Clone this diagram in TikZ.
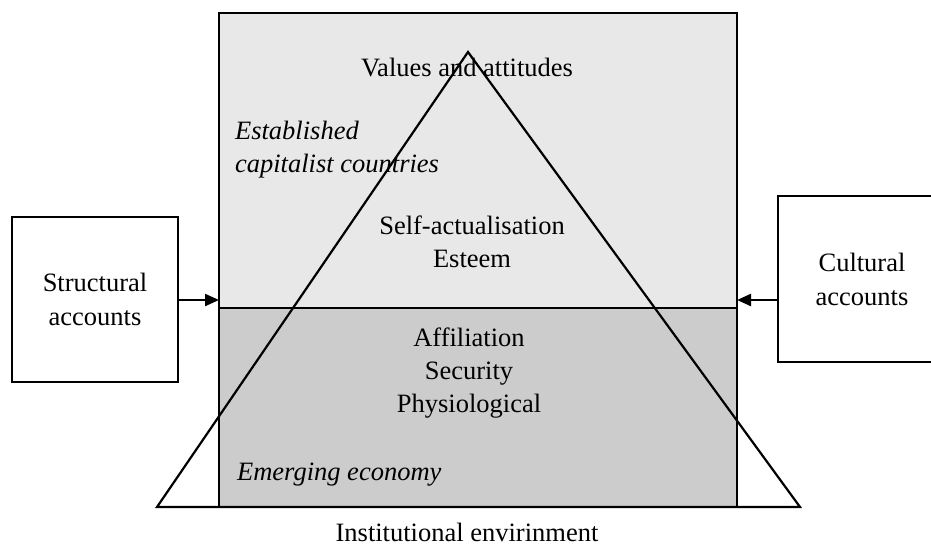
\documentclass[tikz,border=0pt]{standalone}
\usepackage{fontspec}
\setmainfont{Liberation Serif}
\usetikzlibrary{arrows.meta}
\definecolor{upperfill}{HTML}{E8E8E8}
\definecolor{lowerfill}{HTML}{CCCCCC}
\begin{document}
\begin{tikzpicture}[x=1pt,y=-1pt,
  line width=2.2pt,
  region/.style={draw=black, anchor=north west, inner sep=0pt, outer sep=0pt},
  accbox/.style={draw=black, fill=white, inner sep=0pt, outer sep=0pt, align=center,
    font=\fontsize{26.5}{34}\selectfont},
  lbl/.style={inner sep=0pt, align=center, font=\fontsize{26.5}{33}\selectfont},
  itl/.style={inner sep=0pt, align=left, anchor=west, font=\fontsize{26.5}{33}\selectfont\itshape},
  arr/.style={-{Triangle[length=14pt,width=12pt]}, line width=2.2pt}
]
\useasboundingbox (0,0) rectangle (931,547);
\clip (0,0) rectangle (931,547);
% main regions
\node[region, fill=upperfill, minimum width=518pt, minimum height=295pt] (upper) at (219,13) {};
\node[region, fill=lowerfill, minimum width=518pt, minimum height=199pt] (lower) at (219,308) {};
% pyramid
\coordinate (bl) at (157,507);
\coordinate (apex) at (468,52);
\coordinate (br) at (800,507);
\draw[line join=miter] (bl) -- (apex) -- (br) -- cycle;
% side boxes
\node[accbox, minimum width=166pt, minimum height=165pt] (struct) at (95,299.5) {Structural\\accounts};
\node[accbox, minimum width=168pt, minimum height=166pt] (cult) at (862,279) {Cultural\\accounts};
% arrow targets
\coordinate (lt) at (219,300);
\coordinate (rt) at (737,300);
\draw[arr] (struct.east |- lt) -- (lt);
\draw[arr] (cult.west |- rt) -- (rt);
% labels
\node[lbl] (values) at (467,68) {Values and attitudes};
\node[itl] (estab) at (234,150) {Established\\capitalist countries};
\node[lbl] (upperlist) at (472,241.5) {Self-actualisation\\Esteem};
\node[lbl] (lowerlist) at (469,373) {Affiliation\\Security\\Physiological};
\node[itl] (emerg) at (236,475) {Emerging economy};
\node[lbl] (inst) at (467,532) {Institutional envirinment};
\end{tikzpicture}
\end{document}
